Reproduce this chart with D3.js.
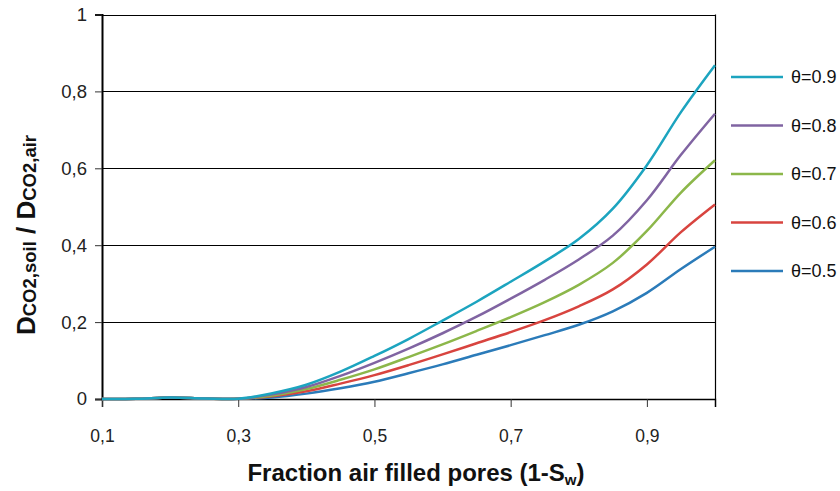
<!DOCTYPE html>
<html>
<head>
<meta charset="utf-8">
<script src="https://cdn.jsdelivr.net/npm/d3@7"></script>
<style>
  html, body { margin: 0; padding: 0; background: #fff; }
  svg { display: block; font-family: "Liberation Sans", Arial, sans-serif; }
  .axis text { font-family: "Liberation Sans", Arial, sans-serif; fill: #222; }
</style>
</head>
<body>
<svg id="chart" width="840" height="491"></svg>
<script>
// Air-filled pore fraction (x axis)
const airFraction = [0.1, 0.15, 0.2, 0.25, 0.3, 0.35, 0.4, 0.45, 0.5, 0.55, 0.6, 0.65, 0.7, 0.75, 0.8, 0.85, 0.9, 0.95, 1.0];

// Relative diffusivity D_soil / D_air for each porosity θ
const theta09 = [0, 0.0005, 0.004, 0.0015, 0.0005, 0.015, 0.037, 0.071, 0.112, 0.156, 0.204, 0.253, 0.305, 0.358, 0.416, 0.495, 0.608, 0.746, 0.868];
const theta08 = [0, 0.0005, 0.004, 0.0015, 0.0005, 0.012, 0.031, 0.060, 0.094, 0.131, 0.171, 0.214, 0.261, 0.310, 0.363, 0.425, 0.517, 0.635, 0.742];
const theta07 = [0, 0.0005, 0.004, 0.0015, 0.0005, 0.009, 0.026, 0.050, 0.077, 0.109, 0.142, 0.177, 0.213, 0.252, 0.297, 0.354, 0.437, 0.537, 0.621];
const theta06 = [0, 0.0005, 0.004, 0.0015, 0.0005, 0.007, 0.020, 0.040, 0.062, 0.088, 0.116, 0.145, 0.174, 0.205, 0.241, 0.285, 0.350, 0.434, 0.506];
const theta05 = [0, 0.0005, 0.004, 0.0015, 0.0005, 0.004, 0.014, 0.028, 0.045, 0.067, 0.090, 0.115, 0.140, 0.166, 0.193, 0.228, 0.276, 0.338, 0.396];

const seriesNames = ["θ=0.9", "θ=0.8", "θ=0.7", "θ=0.6", "θ=0.5"];
const seriesValues = [theta09, theta08, theta07, theta06, theta05];
const seriesColors = ["#1ca4bf", "#8064a2", "#8cb74a", "#d8443f", "#2b7bb9"];

const xTicks = [0.1, 0.3, 0.5, 0.7, 0.9];
const yTicks = [0, 0.2, 0.4, 0.6, 0.8, 1];

const svg = d3.select("#chart");
const plotLeft = 102, plotRight = 715, plotTop = 14.5, plotBottom = 399;

const x = d3.scaleLinear().domain([0.1, 1.0]).range([plotLeft, plotRight]);
const y = d3.scaleLinear().domain([0, 1]).range([plotBottom, plotTop]);
const fmt = v => String(v).replace(".", ",");

// Horizontal gridlines
svg.append("g")
  .selectAll("line")
  .data(yTicks.filter(d => d > 0))
  .join("line")
  .attr("x1", plotLeft).attr("x2", plotRight)
  .attr("y1", d => Math.round(y(d)) + 0.5).attr("y2", d => Math.round(y(d)) + 0.5)
  .attr("stroke", "#000").attr("stroke-width", 1);

// Right frame edge
svg.append("line")
  .attr("x1", plotRight + 0.5).attr("x2", plotRight + 0.5)
  .attr("y1", plotTop).attr("y2", plotBottom)
  .attr("stroke", "#000").attr("stroke-width", 1.2);

// Y axis
const yAxis = d3.axisLeft(y).tickValues(yTicks).tickSize(7).tickPadding(8).tickFormat(fmt);
const gy = svg.append("g").attr("class", "axis").attr("transform", `translate(${plotLeft},0)`).call(yAxis);
gy.attr("font-size", 18.5);
gy.selectAll(".tick text").attr("font-size", 18.5);
gy.select(".domain").attr("stroke", "#000").attr("stroke-width", 2);
gy.selectAll(".tick line").attr("stroke", "#333");

// X axis
const xAxis = d3.axisBottom(x).tickValues(xTicks).tickSize(8).tickPadding(23).tickFormat(fmt);
const gx = svg.append("g").attr("class", "axis").attr("transform", `translate(0,${plotBottom})`).call(xAxis);
gx.attr("font-size", 17.5);
gx.selectAll(".tick text").attr("font-size", 17.5);
gx.select(".domain").attr("stroke", "#000").attr("stroke-width", 1.5);
gx.selectAll(".tick line").attr("stroke", "#333");

// Curves
const line = d3.line()
  .x((d, i) => x(airFraction[i]))
  .y(d => y(d))
  .curve(d3.curveCatmullRom.alpha(0.5));

const drawOrder = seriesValues.map((v, i) => ({ v, c: seriesColors[i] })).reverse();
svg.append("g")
  .selectAll("path")
  .data(drawOrder)
  .join("path")
  .attr("d", d => line(d.v))
  .attr("fill", "none")
  .attr("stroke", d => d.c)
  .attr("stroke-width", 2.5);

// Legend
const legend = svg.append("g");
seriesNames.forEach((name, i) => {
  const ly = 77 + i * 48.5;
  legend.append("line")
    .attr("x1", 731).attr("x2", 783).attr("y1", ly).attr("y2", ly)
    .attr("stroke", seriesColors[i]).attr("stroke-width", 2.5);
  legend.append("text")
    .attr("x", 791).attr("y", ly).attr("dy", "0.35em")
    .attr("font-size", 18).attr("fill", "#111")
    .text(name);
});

// X axis title
const xt = svg.append("text")
  .attr("x", 416).attr("y", 481)
  .attr("text-anchor", "middle")
  .attr("font-size", 24).attr("font-weight", "bold").attr("fill", "#111");
xt.append("tspan").text("Fraction air filled pores (1-S");
xt.append("tspan").attr("font-size", 15).attr("dy", 4).text("w");
xt.append("tspan").attr("dy", -4).text(")");

// Y axis title
const yt = svg.append("text")
  .attr("transform", "translate(35,235) rotate(-90)")
  .attr("text-anchor", "middle")
  .attr("font-size", 26).attr("font-weight", "bold").attr("fill", "#111");
yt.append("tspan").text("D");
yt.append("tspan").attr("font-size", 18.5).attr("dy", 1).text("CO2,soil");
yt.append("tspan").attr("dy", -1).text(" / D");
yt.append("tspan").attr("font-size", 18.5).attr("dy", 1).text("CO2,air");
</script>
</body>
</html>
